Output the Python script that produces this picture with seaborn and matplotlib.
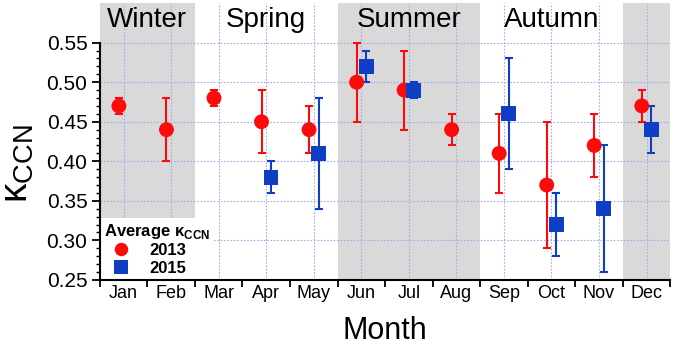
import numpy as np
import pandas as pd
import matplotlib
matplotlib.use("Agg")
import matplotlib.pyplot as plt
from matplotlib.ticker import FixedLocator, NullFormatter
import seaborn as sns

# monthly average kappa_CCN with error bar limits
months = ["Jan", "Feb", "Mar", "Apr", "May", "Jun",
          "Jul", "Aug", "Sep", "Oct", "Nov", "Dec"]

k2013 = [0.47, 0.44, 0.48, 0.45, 0.44, 0.50, 0.49, 0.44, 0.41, 0.37, 0.42, 0.47]
k2013_lo = [0.46, 0.40, 0.47, 0.41, 0.41, 0.45, 0.44, 0.42, 0.36, 0.29, 0.38, 0.45]
k2013_hi = [0.48, 0.48, 0.49, 0.49, 0.47, 0.55, 0.54, 0.46, 0.46, 0.45, 0.46, 0.49]

months2015 = ["Apr", "May", "Jun", "Jul", "Sep", "Oct", "Nov", "Dec"]
k2015 = [0.38, 0.41, 0.52, 0.49, 0.46, 0.32, 0.34, 0.44]
k2015_lo = [0.36, 0.34, 0.50, 0.48, 0.39, 0.28, 0.26, 0.41]
k2015_hi = [0.40, 0.48, 0.54, 0.50, 0.53, 0.36, 0.42, 0.47]

seasons = ["Winter", "Spring", "Summer", "Autumn"]
season_pos = [0.5, 3, 6, 9]   # month index where each label sits

sns.set_style("ticks")
plt.rcParams["font.family"] = ["Liberation Sans", "DejaVu Sans"]
plt.rcParams["mathtext.fontset"] = "custom"
plt.rcParams["mathtext.rm"] = "Liberation Sans"
plt.rcParams["mathtext.bf"] = "Liberation Sans:bold"
plt.rcParams["text.color"] = "black"
plt.rcParams["axes.labelcolor"] = "black"
plt.rcParams["xtick.color"] = "black"
plt.rcParams["ytick.color"] = "black"
plt.rcParams["axes.edgecolor"] = "black"

red = "#ff0a0a"
blue = "#0d3ec4"
shade = "#d9d9d9"
gridc = "#a8a8ee"

df13 = pd.DataFrame({"month": months, "k": k2013, "lo": k2013_lo, "hi": k2013_hi, "year": "2013"})
df15 = pd.DataFrame({"month": months2015, "k": k2015, "lo": k2015_lo, "hi": k2015_hi, "year": "2015"})
df13["x"] = [months.index(m) - 0.1 for m in df13["month"]]
df15["x"] = [months.index(m) + 0.1 for m in df15["month"]]
df = pd.concat([df13, df15], ignore_index=True)

fig = plt.figure(figsize=(6.75, 3.46), dpi=100)
ax = fig.add_axes([0.148, 0.191, 0.845, 0.80])

# season shading
ax.axvspan(-0.5, 1.5, color=shade, zorder=0, lw=0)
ax.axvspan(4.5, 7.5, color=shade, zorder=0, lw=0)
ax.axvspan(10.5, 11.5, color=shade, zorder=0, lw=0)

# error bars
for d, c in [(df13, red), (df15, blue)]:
    ax.errorbar(d["x"], d["k"], yerr=[d["k"] - d["lo"], d["hi"] - d["k"]],
                fmt="none", ecolor=c, elinewidth=1.5, capsize=3, capthick=1.5, zorder=3)

sns.scatterplot(data=df, x="x", y="k", hue="year", style="year",
                palette={"2013": red, "2015": blue},
                markers={"2013": "o", "2015": "s"},
                s=115, linewidth=0, ax=ax, zorder=4)

ax.set_xlim(-0.5, 11.5)
ax.set_ylim(0.25, 0.60)
ax.spines["top"].set_visible(False)
ax.spines["right"].set_visible(False)
ax.spines["left"].set_bounds(0.25, 0.55)
for s in ["left", "bottom"]:
    ax.spines[s].set_linewidth(1.5)
    ax.spines[s].set_zorder(6)

yt = np.arange(0.25, 0.551, 0.05)
ax.set_yticks(yt)
ax.set_yticklabels([f"{v:.2f}" for v in yt], fontsize=15)
ax.yaxis.set_minor_locator(FixedLocator(np.arange(0.25, 0.551, 0.01)))
ax.tick_params(axis="y", which="major", length=6, width=1.3, direction="out", pad=3)
ax.tick_params(axis="y", which="minor", length=3, width=1.0, direction="out")

ax.xaxis.set_major_locator(FixedLocator(np.arange(-0.5, 11.6, 1)))
ax.xaxis.set_major_formatter(NullFormatter())
ax.xaxis.set_minor_locator(FixedLocator(np.arange(12)))
ax.set_xticklabels(months, minor=True, fontsize=13)
ax.tick_params(axis="x", which="major", length=5, width=1.3, direction="out")
ax.tick_params(axis="x", which="minor", length=0, pad=4)

# dotted grid
for i in range(12):
    ax.axvline(i, color=gridc, lw=0.8, ls=(0, (1.5, 1.5)), zorder=1)
for v in yt:
    ax.axhline(v, color=gridc, lw=0.8, ls=(0, (1.5, 1.5)), zorder=1)

for name, xpos in zip(seasons, season_pos):
    ax.text(xpos, 0.579, name, ha="center", va="center", fontsize=20)

ax.set_xlabel("Month", fontsize=22, labelpad=10)
ax.set_ylabel(r"κ$_{\mathrm{CCN}}$", fontsize=28)
ax.yaxis.set_label_coords(-0.112, 0.42)

handles, labels = ax.get_legend_handles_labels()
leg = ax.legend(handles, labels, title=r"Average κ$_{\mathbf{CCN}}$",
                loc="lower left", bbox_to_anchor=(0.0, 0.0), borderaxespad=0.0,
                frameon=True, facecolor="white", edgecolor="none", framealpha=1,
                fancybox=False, prop={"weight": "bold", "size": 12},
                title_fontproperties={"weight": "bold", "size": 12},
                alignment="left", handletextpad=0.7, labelspacing=0.15,
                borderpad=0.25, markerscale=0.9)
leg.set_zorder(5)

fig.savefig("out.png", dpi=100)
